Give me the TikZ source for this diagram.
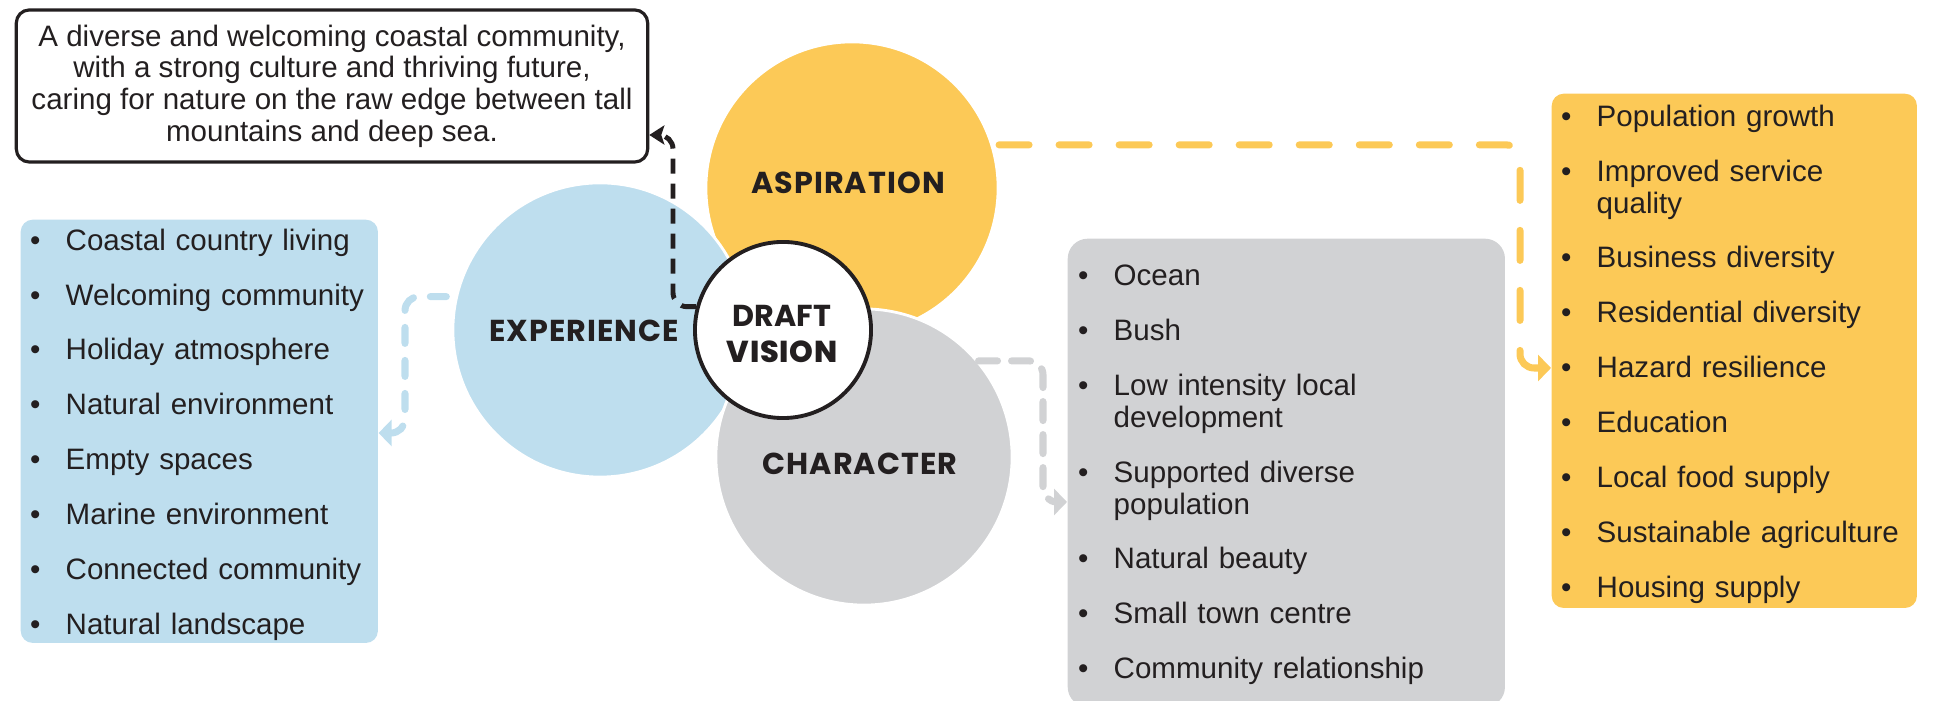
\documentclass[tikz,border=0pt]{standalone}
\usepackage{fontspec}
\setmainfont{Liberation Sans}
\newfontfamily\headfont{Poppins}[LetterSpace=3.5]
\newfontfamily\draftfont{Poppins}[LetterSpace=0.5]
\newfontfamily\headmedfont{Poppins Medium}[LetterSpace=2.5]
\usetikzlibrary{positioning, arrows.meta}
\definecolor{aspyellow}{HTML}{FCC957}
\definecolor{expblue}{HTML}{BEDEEE}
\definecolor{chrgrey}{HTML}{D1D2D4}
\definecolor{ink}{HTML}{231F20}
\newcommand{\itmfirst}{\noindent\hangindent=0.4cm\hangafter=1\makebox[0.4cm][l]{\hspace{0.045cm}\textbullet}}
\newcommand{\itm}{\par\itmfirst}
\newcommand{\listfont}{\fontsize{8.4pt}{9.1pt}\selectfont\setlength{\parskip}{0.229cm}}

\begin{document}
\begin{tikzpicture}[x=0.01cm, y=-0.01cm,
  bubble/.style={circle, draw=white, line width=0.8pt, inner sep=0pt},
  headtext/.style={text=ink, inner sep=0pt, font=\headfont\bfseries\fontsize{8.6pt}{10.2pt}\selectfont},
  listbox/.style={anchor=north west, inner sep=0pt, rounded corners=#1},
  listtext/.style={anchor=north west, inner sep=0pt, text width=4.2cm, align=left, text=ink, font=\listfont},
  flow/.style={line width=2pt, line cap=round, rounded corners=0.14cm, -{Triangle[length=0.13cm, width=0.26cm]}}]
  \useasboundingbox (0,0) rectangle (1936,701);

  \node[listbox=0.12cm, fill=expblue, minimum width=3.57cm, minimum height=4.23cm] (expbox) at (20,219) {};
  \node[listbox=0.2cm, fill=chrgrey, minimum width=4.37cm, minimum height=4.68cm] (chrbox) at (1067,238) {};
  \node[listbox=0.12cm, fill=aspyellow, minimum width=3.65cm, minimum height=5.14cm] (aspbox) at (1551,93) {};

  \node[listtext] (explist) at ([xshift=0.05cm, yshift=-0.09cm]expbox.north west)
    {\itmfirst Coastal country living \itm Welcoming community \itm Holiday atmosphere
     \itm Natural environment \itm Empty spaces \itm Marine environment
     \itm Connected community \itm Natural landscape};
  \node[listtext] (chrlist) at ([xshift=0.06cm, yshift=-0.26cm]chrbox.north west)
    {\itmfirst Ocean \itm Bush \itm Low intensity local\newline development
     \itm Supported diverse\newline population \itm Natural beauty
     \itm Small town centre \itm Community relationship};
  \node[listtext] (asplist) at ([xshift=0.05cm, yshift=-0.11cm]aspbox.north west)
    {\itmfirst Population growth \itm Improved service\newline quality \itm Business diversity
     \itm Residential diversity \itm Hazard resilience \itm Education
     \itm Local food supply \itm Sustainable agriculture \itm Housing supply};

  \node[draw=ink, line width=0.9pt, rounded corners=0.13cm, minimum width=6.31cm, minimum height=1.52cm,
    align=center, text=ink, font=\fontsize{8.4pt}{9pt}\selectfont] (vision) at (332,86)
    {A diverse and welcoming coastal community,\\with a strong culture and thriving future,\\
     caring for nature on the raw edge between tall\\mountains and deep sea.};

  \node[bubble, fill=aspyellow, minimum size=2.92cm] (asp) at (852,188) {};
  \node[bubble, fill=expblue, minimum size=2.94cm] (exp) at (600,330) {};
  \node[bubble, fill=chrgrey, minimum size=2.96cm] (chr) at (864,457) {};
  \node[circle, draw=ink, fill=white, line width=1.1pt, minimum size=1.76cm, inner sep=0pt] (drft) at (783,330) {};

  \node[headtext] (asplbl) at (848,183) {ASPIRATION};
  \node[headtext] (explbl) at (584,331) {EXPERIENCE};
  \node[headtext] (chrlbl) at (860,464) {CHARACTER};
  \node[headtext, align=center] (drftlbl) at (782,334) {{\draftfont DRAFT}\\{\headmedfont VISION}};

  \coordinate (aspbend) at (1520,368);
  \coordinate (chrbend) at (1043,502);
  \coordinate (expbend) at (405,433);
  \coordinate (visbend) at (673,135);
  \draw[flow, aspyellow, dash pattern=on 0.3cm off 0.3cm] ([xshift=0.06cm]asp.17) -| (aspbend) -- (aspbox.west |- aspbend);
  \draw[flow, chrgrey, dash pattern=on 0.19cm off 0.14cm] (chr.40) -| (chrbend) -- (chrbox.west |- chrbend);
  \draw[flow, expblue, dash pattern=on 0.16cm off 0.17cm] ([xshift=-0.09cm]exp.167) -| (expbend) -- (expbox.east |- expbend);
  \draw[ink, line width=1.4pt, rounded corners=0.14cm, dash pattern=on 0.15cm off 0.1cm,
    -{Stealth[length=0.15cm, width=0.19cm, inset=0.03cm]}] (drft.165) -| (visbend) -- (vision.east |- visbend);
\end{tikzpicture}
\end{document}
